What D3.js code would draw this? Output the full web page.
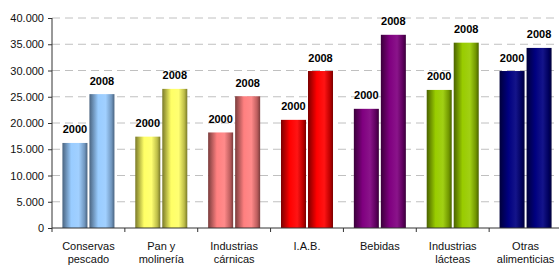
<!DOCTYPE html>
<html>
<head>
<meta charset="utf-8">
<script src="https://cdn.jsdelivr.net/npm/d3@7"></script>
<style>
  html, body { margin: 0; padding: 0; background: #fff; }
  svg { display: block; font-family: Arial, 'Liberation Sans', sans-serif; }
</style>
</head>
<body>
<div id="chart"></div>
<script>
// Industry values, 2000 vs 2008, grouped bars with cylinder-like shading.
var categories = [
    ['Conservas', 'pescado'],
    ['Pan y', 'molinería'],
    ['Industrias', 'cárnicas'],
    ['I.A.B.'],
    ['Bebidas'],
    ['Industrias', 'lácteas'],
    ['Otras', 'alimenticias']
];
var years = ['2000', '2008'];
var values2000 = [16200, 17400, 18200, 20600, 22700, 26300, 29900];
var values2008 = [25500, 26500, 25100, 29900, 36800, 35300, 34300];
var yTickValues = [0, 5000, 10000, 15000, 20000, 25000, 30000, 35000, 40000];

// per-category fill (base, dark edge)
var palette = [
    ['#99ccff', '#4a6480'],
    ['#ffff66', '#7a7a2a'],
    ['#ff8080', '#7a3c3c'],
    ['#ff0000', '#7a0000'],
    ['#800080', '#3a003a'],
    ['#99cc00', '#4a6200'],
    ['#000080', '#00003a']
];

var W = 559, H = 265;
var margin = { top: 18, right: -3, bottom: 37, left: 52 };
var innerW = W - margin.left - margin.right;
var innerH = H - margin.top - margin.bottom;

var svg = d3.select('#chart').append('svg')
    .attr('width', W).attr('height', H);

var defs = svg.append('defs');
palette.forEach(function (c, i) {
    var gr = defs.append('linearGradient')
        .attr('id', 'grad' + i)
        .attr('x1', '0%').attr('x2', '100%')
        .attr('y1', '0%').attr('y2', '0%');
    var light = d3.interpolateRgb(c[0], '#ffffff')(0.08);
    gr.append('stop').attr('offset', '0%').attr('stop-color', c[1]);
    gr.append('stop').attr('offset', '35%').attr('stop-color', c[0]);
    gr.append('stop').attr('offset', '65%').attr('stop-color', light);
    gr.append('stop').attr('offset', '88%').attr('stop-color', d3.interpolateRgb(c[0], c[1])(0.5));
    gr.append('stop').attr('offset', '100%').attr('stop-color', c[1]);
});

var g = svg.append('g')
    .attr('transform', 'translate(' + margin.left + ',' + margin.top + ')');

var x0 = d3.scaleBand().domain(d3.range(categories.length)).range([0, innerW]);
var x1 = d3.scaleBand().domain(years).range([0, x0.bandwidth()])
    .paddingInner(0.074).paddingOuter(0.386);
var y = d3.scaleLinear().domain([0, 40000]).range([innerH, 0]);

var locale = d3.formatLocale({ decimal: ',', thousands: '.', grouping: [3], currency: ['', ''] });
var fmt = locale.format(',d');

// dashed gridlines
g.append('g').selectAll('line').data(yTickValues.slice(1)).join('line')
    .attr('x1', 0).attr('x2', innerW)
    .attr('y1', function (d) { return y(d); })
    .attr('y2', function (d) { return y(d); })
    .attr('stroke', '#c0c0c0').attr('stroke-width', 1)
    .attr('stroke-dasharray', '8,5');

// bars
var rows = categories.map(function (c, i) {
    return [{ i: i, year: '2000', v: values2000[i] }, { i: i, year: '2008', v: values2008[i] }];
});

var grp = g.selectAll('g.cat').data(rows).join('g')
    .attr('class', 'cat')
    .attr('transform', function (d, i) { return 'translate(' + x0(i) + ',0)'; });

grp.selectAll('rect').data(function (d) { return d; }).join('rect')
    .attr('x', function (d) { return x1(d.year); })
    .attr('width', x1.bandwidth())
    .attr('y', function (d) { return y(d.v); })
    .attr('height', function (d) { return innerH - y(d.v); })
    .attr('fill', function (d) { return 'url(#grad' + d.i + ')'; });

grp.selectAll('text').data(function (d) { return d; }).join('text')
    .attr('x', function (d) { return x1(d.year) + x1.bandwidth() / 2; })
    .attr('y', function (d) { return y(d.v) - 9.5; })
    .attr('text-anchor', 'middle')
    .attr('font-size', 11).attr('font-weight', 'bold')
    .attr('fill', '#000')
    .text(function (d) { return d.year; });

// y axis
var yAxis = d3.axisLeft(y).tickValues(yTickValues).tickSize(4).tickPadding(4)
    .tickFormat(function (d) { return d === 0 ? '0' : fmt(d); });
var yg = g.append('g').call(yAxis);
yg.select('.domain').attr('stroke', '#333').attr('d', 'M0,' + innerH + 'V0');
yg.selectAll('.tick line').attr('stroke', '#333');
yg.selectAll('text').attr('font-size', 11).attr('fill', '#111')
    .attr('font-family', "Arial, 'Liberation Sans', sans-serif");

// x axis: baseline with ticks at category boundaries
var xg = g.append('g').attr('transform', 'translate(0,' + innerH + ')');
xg.append('line').attr('x1', 0).attr('x2', innerW).attr('stroke', '#333');
xg.selectAll('line.tk').data(d3.range(categories.length)).join('line')
    .attr('class', 'tk')
    .attr('x1', function (i) { return x0(i); })
    .attr('x2', function (i) { return x0(i); })
    .attr('y1', 0).attr('y2', 4)
    .attr('stroke', '#333');

xg.selectAll('text.cl').data(categories).join('text')
    .attr('class', 'cl')
    .attr('text-anchor', 'middle')
    .attr('font-size', 11)
    .attr('fill', '#111')
    .attr('transform', function (d, i) {
        return 'translate(' + (x0(i) + x0.bandwidth() / 2) + ',0)';
    })
    .each(function (d) {
        var t = d3.select(this);
        d.forEach(function (line, k) {
            t.append('tspan').attr('x', 0).attr('y', 22 + k * 13).text(line);
        });
    });
</script>
</body>
</html>
